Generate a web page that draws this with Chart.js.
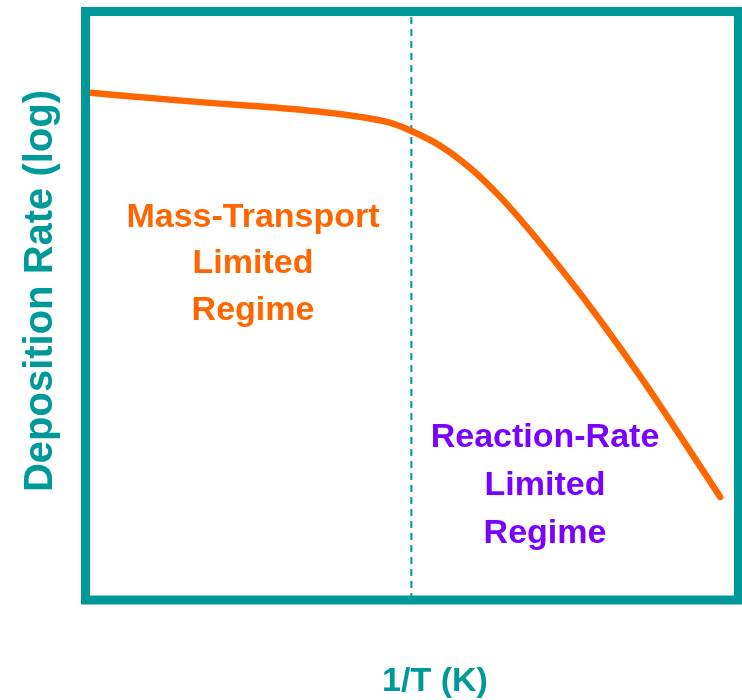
<!DOCTYPE html>
<html>
<head>
<meta charset="utf-8">
<script src="https://cdn.jsdelivr.net/npm/chart.js@4"></script>
<style>
  html, body { margin: 0; padding: 0; background: #ffffff; }
  #wrap { width: 742px; height: 700px; position: relative; }
</style>
</head>
<body>
<div id="wrap"><canvas id="myChart"></canvas></div>
<script>
// 1/T in arbitrary units (0 = left edge of the box, 100 = right edge)
const invT = [0.7, 17.5, 32.9, 42.0, 46.6, 49.9, 54.3, 58.9, 63.5, 68.1, 72.7, 77.3, 81.9, 86.5, 91.0, 97.2];
// log deposition rate, arbitrary units (0 = bottom, 100 = top)
const logRate = [86.2, 84.6, 83.3, 82.1, 81.1, 79.7, 77.2, 73.4, 68.5, 62.7, 56.4, 49.8, 42.8, 35.5, 28.0, 17.5];
// regime boundary (dashed line)
const boundaryX = [49.9];
const axisTitles = ["1/T (K)", "Deposition Rate (log)"];
const massLabel = ["Mass-Transport", "Limited", "Regime"];
const reactionLabel = ["Reaction-Rate", "Limited", "Regime"];

const TEAL = "#009999";
const ORANGE = "#ff6600";
const PURPLE = "#7a00ff";
const FONT = "'Liberation Sans', Arial, sans-serif";

const curve = invT.map((x, i) => ({ x: x, y: logRate[i] }));
const boundary = [{ x: boundaryX[0], y: 0 }, { x: boundaryX[0], y: 100 }];

// box, axis titles and regime labels
const decorations = {
  id: "decorations",
  afterDraw(chart) {
    const ctx = chart.ctx;
    const a = chart.chartArea;
    ctx.save();

    ctx.strokeStyle = TEAL;
    ctx.lineWidth = 9;
    ctx.strokeRect(a.left, a.top, a.right - a.left, a.bottom - a.top);

    ctx.textAlign = "center";
    ctx.textBaseline = "alphabetic";

    ctx.fillStyle = TEAL;
    ctx.font = "bold 34px " + FONT;
    ctx.fillText(axisTitles[0], 435, 691);

    ctx.save();
    ctx.translate(52, 291);
    ctx.rotate(-Math.PI / 2);
    ctx.font = "bold 40px " + FONT;
    ctx.fillText(axisTitles[1], 0, 0);
    ctx.restore();

    ctx.font = "bold 34px " + FONT;
    ctx.fillStyle = ORANGE;
    const massY = [227, 273, 320];
    massLabel.forEach((t, i) => ctx.fillText(t, 253, massY[i]));

    ctx.fillStyle = PURPLE;
    const reactY = [447, 495, 543];
    reactionLabel.forEach((t, i) => ctx.fillText(t, 545, reactY[i]));

    ctx.restore();
  },
};

new Chart(document.getElementById("myChart"), {
  type: "line",
  data: {
    datasets: [
      {
        data: curve,
        borderColor: ORANGE,
        borderWidth: 6.5,
        borderCapStyle: "round",
        cubicInterpolationMode: "monotone",
        pointRadius: 0,
        fill: false,
      },
      {
        data: boundary,
        borderColor: TEAL,
        borderWidth: 2,
        borderDash: [7, 5],
        pointRadius: 0,
        fill: false,
      },
    ],
  },
  options: {
    responsive: true,
    maintainAspectRatio: false,
    animation: false,
    devicePixelRatio: 1,
    layout: { padding: { left: 85.5, top: 11.5, right: 3.5, bottom: 100 } },
    plugins: {
      legend: { display: false },
      tooltip: { enabled: false },
    },
    scales: {
      x: { type: "linear", min: 0, max: 100, display: false },
      y: { type: "linear", min: 0, max: 100, display: false },
    },
  },
  plugins: [decorations],
});
</script>
</body>
</html>
